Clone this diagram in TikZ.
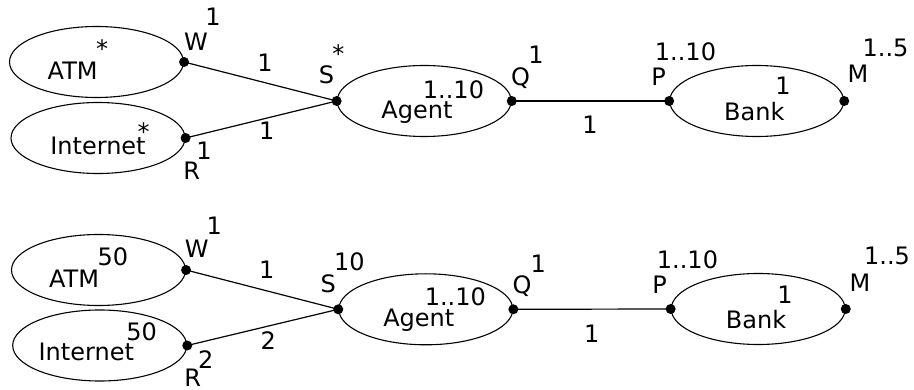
\documentclass[tikz,border=0pt]{standalone}
\usepackage{fontspec}
\setmainfont{DejaVu Sans}
\usetikzlibrary{shapes.geometric}
\tikzset{
  el/.style={draw,ellipse,line width=1.1pt,minimum width=174pt,minimum height=71pt,inner sep=0pt},
  lb/.style={anchor=base,inner sep=0pt,font=\fontsize{24}{28}\selectfont},
  dotc/.style={fill=black,draw=none,circle,inner sep=0pt,minimum size=10pt},
  conn/.style={line width=1.2pt}
}
\begin{document}
\begin{tikzpicture}[x=1pt,y=-1pt]
\useasboundingbox (0,0) rectangle (914,390);
% ---------- top row ----------
\node[el] (atmA) at (96.5,62) {};
\node[el] (intA) at (98,138) {};
\node[el] (agA) at (424.2,101) {};
\node[el] (bkA) at (756.7,101) {};
\draw[conn] (atmA.east) -- (agA.west);
\draw[conn] (intA.east) -- (agA.west);
\draw[conn] (agA.east) -- (bkA.west);
\node[dotc] (dWA) at (atmA.east) {};
\node[dotc] (dRA) at (intA.east) {};
\node[dotc] (dSA) at (agA.west) {};
\node[dotc] (dQA) at (agA.east) {};
\node[dotc] (dPA) at (bkA.west) {};
\node[dotc] (dMA) at (bkA.east) {};
\node[lb] (tATMa) at (72.7,79.3) {ATM};
\node[lb] (sATMa) at (102,57.5) {*};
\node[lb] (tINTa) at (98,155) {Internet};
\node[lb] (sINTa) at (143.7,141) {*};
\node[lb] (tWa) at (196,50.7) {W};
\node[lb] (mWa) at (213,26) {1};
\node[lb] (eWa) at (265,71.7) {1};
\node[lb] (eRa) at (266.7,140) {1};
\node[lb] (mRa) at (204,160) {1};
\node[lb] (tRa) at (191.7,180) {R};
\node[lb] (tSa) at (326.5,84) {S};
\node[lb] (sSa) at (338.3,62.2) {*};
\node[lb] (mAGa) at (453.5,98.3) {1..10};
\node[lb] (tAGa) at (417,119) {Agent};
\node[lb] (tQa) at (520.5,85.5) {Q};
\node[lb] (mQa) at (536,64) {1};
\node[lb] (eQa) at (590,133.3) {1};
\node[lb] (tPa) at (658.5,86) {P};
\node[lb] (mPa) at (685.5,61) {1..10};
\node[lb] (mBKa) at (783,95) {1};
\node[lb] (tBKa) at (754.3,120.7) {Bank};
\node[lb] (tMa) at (858,82.7) {M};
\node[lb] (mMa) at (885.5,56.7) {1..5};
% ---------- bottom row ----------
\node[el] (atmB) at (98.5,270) {};
\node[el] (intB) at (99.7,345.5) {};
\node[el] (agB) at (425.8,309.3) {};
\node[el] (bkB) at (758.2,309) {};
\draw[conn] (atmB.east) -- (agB.west);
\draw[conn] (intB.east) -- (agB.west);
\draw[conn] (agB.east) -- (bkB.west);
\node[dotc] (dWB) at (atmB.east) {};
\node[dotc] (dRB) at (intB.east) {};
\node[dotc] (dSB) at (agB.west) {};
\node[dotc] (dQB) at (agB.east) {};
\node[dotc] (dPB) at (bkB.west) {};
\node[dotc] (dMB) at (bkB.east) {};
\node[lb] (tATMb) at (74,287.3) {ATM};
\node[lb] (mATMb) at (113,265.7) {50};
\node[lb] (tINTb) at (86.3,360) {Internet};
\node[lb] (mINTb) at (141.7,340.7) {50};
\node[lb] (tWb) at (196.7,257.7) {W};
\node[lb] (mWb) at (214.3,234.3) {1};
\node[lb] (eWb) at (266.7,279) {1};
\node[lb] (eRb) at (268.3,349) {2};
\node[lb] (mRb) at (205.7,369) {2};
\node[lb] (tRb) at (192.7,386.7) {R};
\node[lb] (tSb) at (328.3,292.3) {S};
\node[lb] (mSb) at (349.5,271) {10};
\node[lb] (mAGb) at (455.3,306) {1..10};
\node[lb] (tAGb) at (418.8,326.7) {Agent};
\node[lb] (tQb) at (522,293.5) {Q};
\node[lb] (mQb) at (538.3,272.3) {1};
\node[lb] (eQb) at (591.7,342.3) {1};
\node[lb] (tPb) at (659.7,294) {P};
\node[lb] (mPb) at (687.5,269) {1..10};
\node[lb] (mBKb) at (785,304) {1};
\node[lb] (tBKb) at (756,329) {Bank};
\node[lb] (tMb) at (860,291.7) {M};
\node[lb] (mMb) at (887,265) {1..5};
\end{tikzpicture}
\end{document}
